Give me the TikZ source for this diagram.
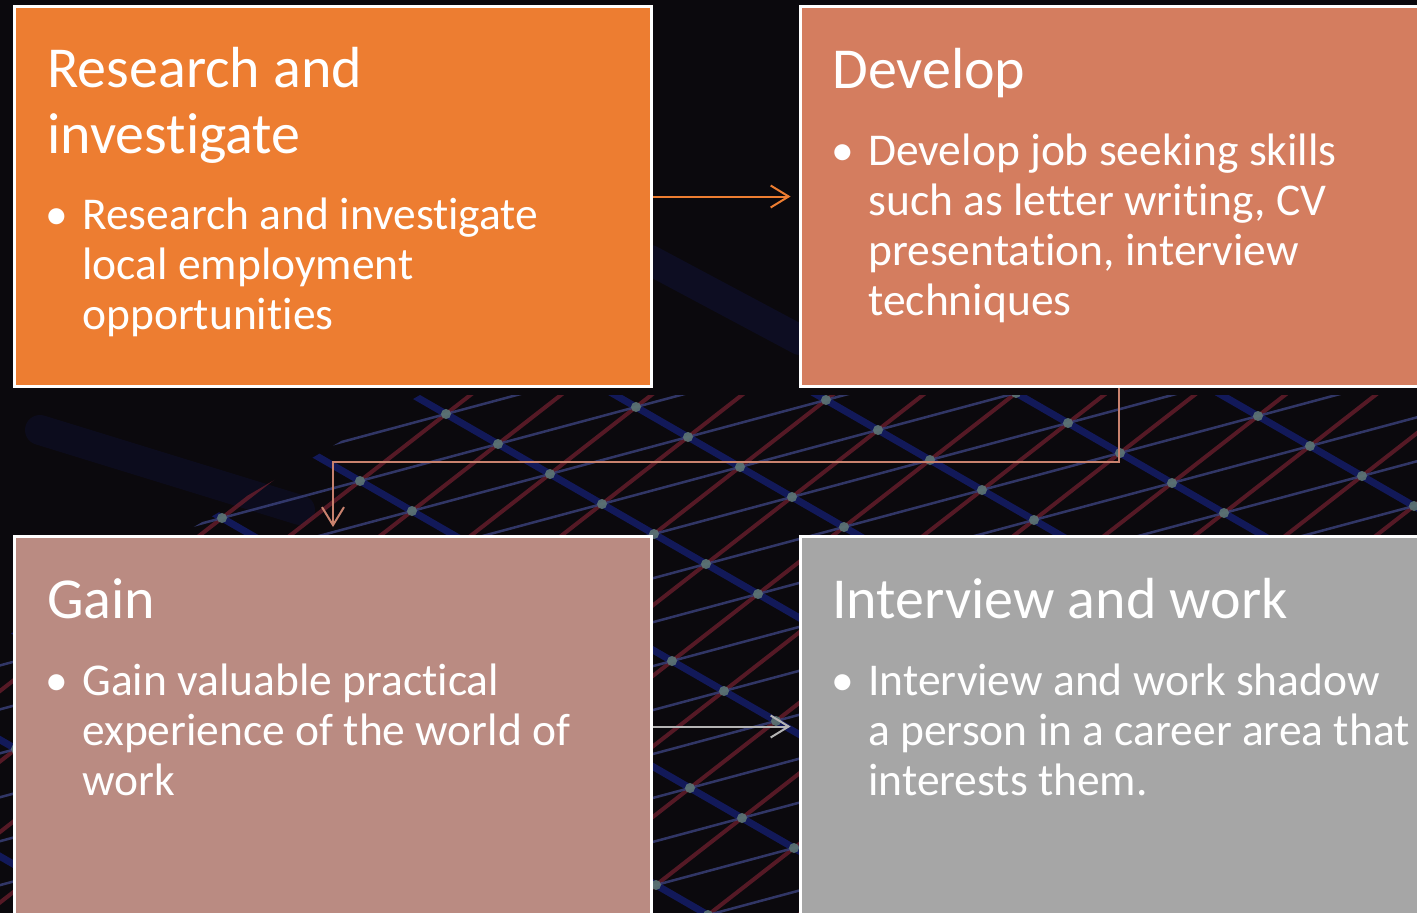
\documentclass[tikz,border=0pt]{standalone}
\usepackage{fontspec}
\setmainfont{Carlito}[Ligatures={NoCommon,NoContextual}, RawFeature={-liga;-clig;-calt;-dlig}]
\usetikzlibrary{arrows.meta}
\definecolor{bgdark}{HTML}{0B090D}
\definecolor{boxone}{HTML}{ED7D31}
\definecolor{boxtwo}{HTML}{D47D5F}
\definecolor{boxthree}{HTML}{BA8B82}
\definecolor{boxfour}{HTML}{A6A6A6}
\definecolor{linkone}{HTML}{ED7D31}
\definecolor{linktwo}{HTML}{C9826E}
\definecolor{linkthree}{HTML}{B4B4B4}
\definecolor{meshblue}{HTML}{16207A}
\definecolor{meshred}{HTML}{6E1F2E}
\definecolor{meshgrey}{HTML}{3E4684}
\definecolor{meshdot}{HTML}{5C7574}
\begin{document}
\begin{tikzpicture}[x=0.02cm, y=-0.02cm,
	stage/.style={draw=white, line width=0.06cm, minimum width=12.76cm, minimum height=7.6cm, inner sep=0pt},
	ttl/.style={anchor=base west, text=white, align=left, inner sep=0pt, font=\fontsize{33}{37}\selectfont},
	txt/.style={anchor=base west, text=white, align=left, inner sep=0pt, font=\fontsize{25.9}{28.45}\selectfont},
	dot/.style={anchor=base, text=white, inner sep=0pt, font=\fontsize{25.9}{28.45}\selectfont},
	link/.style={line width=0.04cm, -{Straight Barb[length=0.36cm, width=0.44cm, line width=0.04cm]}}]
	\useasboundingbox (0,0) rectangle (1417,913);
	\clip (0,0) rectangle (1417,913);
	\fill[bgdark] (0,0) rectangle (1417,913);

	\draw[meshblue, line width=0.6cm, opacity=0.2, line cap=round] (650,260) -- (800,340);
	\draw[meshblue, line width=0.6cm, opacity=0.15, line cap=round] (40,430) -- (300,510);

	\begin{scope}
		\clip (0,640) -- (420,395) -- (1417,395) -- (1417,913) -- (0,913) -- cycle;
		\foreach \j in {-8,...,8}
			\draw[meshblue, line width=0.14cm, opacity=0.7] ({740+86*\j-52*16},{467-67*\j-30*16}) -- ({740+86*\j+52*16},{467-67*\j+30*16});
		\foreach \i in {-16,...,16}
			\draw[meshred, line width=0.08cm, opacity=0.75] ({740+52*\i-86*8},{467+30*\i+67*8}) -- ({740+52*\i+86*8},{467+30*\i-67*8});
		\foreach \k in {-24,...,24}
			\draw[meshgrey, line width=0.05cm, opacity=0.75] ({740+52*\k-138*8},{467+30*\k+37*8}) -- ({740+52*\k+138*8},{467+30*\k-37*8});
		\foreach \i in {-12,...,12}
			\foreach \j in {-6,...,6}
				\fill[meshdot, opacity=0.9] ({740+52*\i+86*\j},{467+30*\i-67*\j}) circle (0.1cm);
	\end{scope}

	\node[stage, fill=boxone] (research) at (333,196.5) {};
	\node[stage, fill=boxtwo] (develop) at (1119,196.5) {};
	\node[stage, fill=boxthree] (gain) at (333,726.5) {};
	\node[stage, fill=boxfour] (interview) at (1119,726.5) {};

	\node[ttl] (researchttl) at (47,153) {Research and\\investigate};
	\node[dot] (researchdot) at (57,229) {•};
	\node[txt] (researchtxt) at (82,329) {Research and investigate\\local employment\\opportunities};

	\node[ttl] (developttl) at (832,88) {Develop};
	\node[dot] (developdot) at (843,165) {•};
	\node[txt] (developtxt) at (868,315) {Develop job seeking skills\\such as letter writing, CV\\presentation, interview\\techniques};

	\node[ttl] (gainttl) at (47,618) {Gain};
	\node[dot] (gaindot) at (57,695) {•};
	\node[txt] (gaintxt) at (82,795) {Gain valuable practical\\experience of the world of\\work};

	\node[ttl] (interviewttl) at (832,618) {Interview and work};
	\node[dot] (interviewdot) at (843,695) {•};
	\node[txt] (interviewtxt) at (868,795) {Interview and work shadow\\a person in a career area that\\interests them.};

	\draw[link, linkone, shorten >=0.16cm] (research.east) -- (develop.west);
	\draw[link, linktwo, shorten >=0.16cm] (develop.south) -- ++(0,74) -| (gain.north);
	\draw[link, linkthree, shorten >=0.16cm] (gain.east) -- (interview.west);
\end{tikzpicture}
\end{document}
